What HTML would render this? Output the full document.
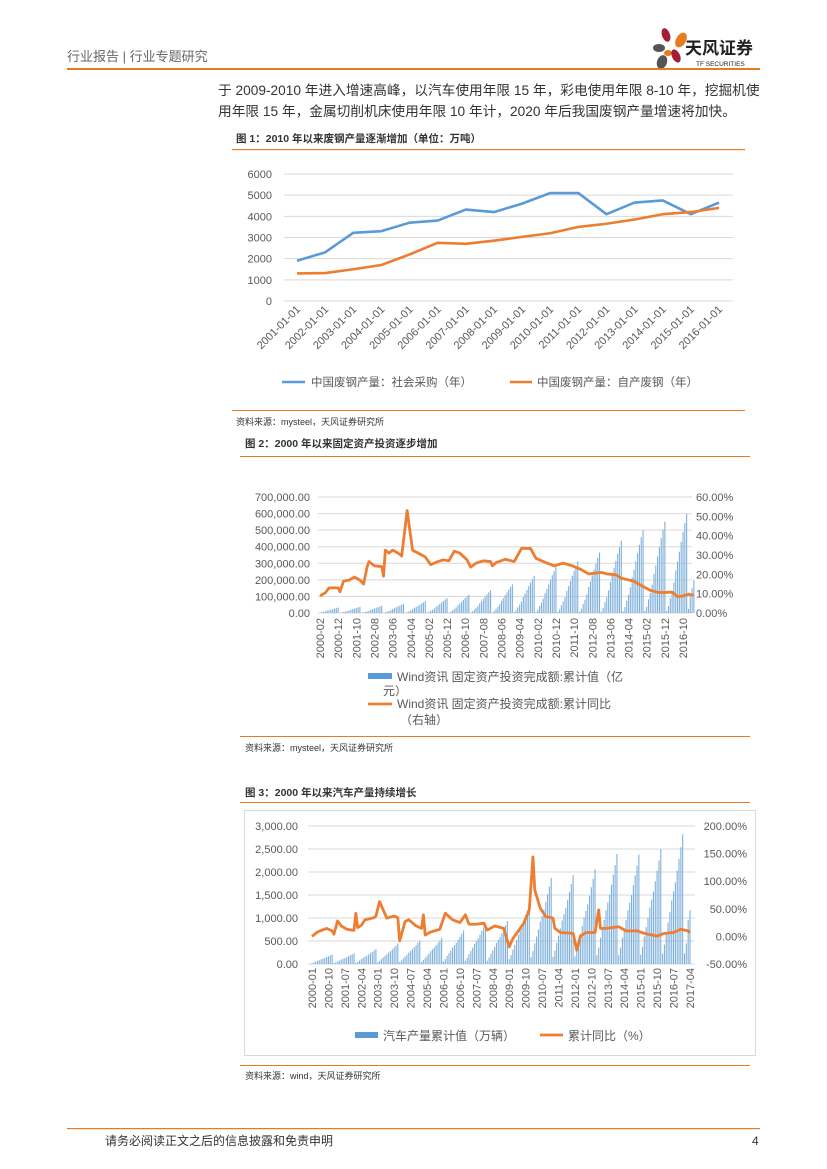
<!DOCTYPE html>
<html><head><meta charset="utf-8"><style>
html,body{margin:0;padding:0;background:#fff}
svg{display:block;font-family:"Liberation Sans","Noto Sans CJK SC",sans-serif}
</style></head><body>
<svg id="pg" width="827" height="1169" viewBox="0 0 827 1169">
<g>
<text x="67" y="61" font-size="13" fill="#666">行业报告 | 行业专题研究</text>
<g>
<ellipse cx="666" cy="35" rx="4" ry="7" fill="#a31d36" transform="rotate(-20 666 35)"/>
<ellipse cx="681" cy="40" rx="5" ry="8" fill="#e87a1f" transform="rotate(30 681 40)"/>
<ellipse cx="659" cy="48" rx="6" ry="4" fill="#555"/>
<ellipse cx="668" cy="53" rx="4" ry="3" fill="#e87a1f"/>
<ellipse cx="676" cy="56" rx="4" ry="7" fill="#a31d36" transform="rotate(-25 676 56)"/>
<ellipse cx="662" cy="62" rx="5" ry="7" fill="#555" transform="rotate(20 662 62)"/>
<text x="685" y="54" font-size="17" font-weight="bold" fill="#222">天风证券</text>
<text x="696" y="66" font-size="6.5" fill="#222">TF SECURITIES</text>
</g>
<rect x="67" y="68" width="693" height="2" fill="#e87a1f"/>
</g>
<g font-size="13.7" fill="#333">
<text x="218" y="95">于 2009-2010 年进入增速高峰，以汽车使用年限 15 年，彩电使用年限 8-10 年，挖掘机使</text>
<text x="218" y="116">用年限 15 年，金属切削机床使用年限 10 年计，2020 年后我国废钢产量增速将加快。</text>
</g>
<text x="236" y="142" font-size="10.5" font-weight="bold" fill="#333">图 1：2010 年以来废钢产量逐渐增加（单位：万吨）</text>
<rect x="232" y="149" width="513" height="1.2" fill="#e87a1f"/>
<g id="c1"></g>
<rect x="232" y="410" width="513" height="1" fill="#e87a1f"/>
<text x="236" y="425" font-size="9" fill="#333">资料来源：mysteel，天风证券研究所</text>
<text x="245" y="447" font-size="10.5" font-weight="bold" fill="#333">图 2：2000 年以来固定资产投资逐步增加</text>
<rect x="240" y="456" width="510" height="1" fill="#e87a1f"/>
<g id="c2"></g>
<rect x="240" y="736" width="510" height="1" fill="#e87a1f"/>
<text x="245" y="751" font-size="9" fill="#333">资料来源：mysteel，天风证券研究所</text>
<text x="245" y="796" font-size="10.5" font-weight="bold" fill="#333">图 3：2000 年以来汽车产量持续增长</text>
<rect x="240" y="802" width="510" height="1" fill="#e87a1f"/>
<rect x="244.5" y="810.5" width="511" height="245" fill="none" stroke="#d9d9d9"/>
<g id="c3"></g>
<rect x="240" y="1065" width="510" height="1" fill="#e87a1f"/>
<text x="245" y="1079" font-size="9" fill="#333">资料来源：wind，天风证券研究所</text>
<rect x="67" y="1128" width="693" height="1.2" fill="#e87a1f"/>
<text x="105" y="1145" font-size="12" fill="#333">请务必阅读正文之后的信息披露和免责申明</text>
<text x="752" y="1145" font-size="12" fill="#333">4</text>
</svg>
<script>
// ---------- Chart 1 data ----------
const c1Years = ["2001-01-01","2002-01-01","2003-01-01","2004-01-01","2005-01-01","2006-01-01","2007-01-01","2008-01-01","2009-01-01","2010-01-01","2011-01-01","2012-01-01","2013-01-01","2014-01-01","2015-01-01","2016-01-01"];
const c1Purchased = [1900,2300,3220,3300,3700,3800,4320,4200,4600,5100,5100,4100,4650,4750,4100,4650];
const c1SelfProduced = [1300,1320,1500,1700,2200,2750,2700,2850,3030,3200,3500,3650,3850,4100,4200,4400];
const c1Ticks = [0,1000,2000,3000,4000,5000,6000];
// ---------- Chart 2 data ----------
const c2YearTotals = [32918,37213,43500,55118,70477,88774,109998,137324,172828,224599,278122,311485,364854,436528,501265,551590,596501];
const c2MonthShare = [0.02,0.07,0.15,0.22,0.31,0.43,0.52,0.62,0.72,0.82,0.91,1.0];
const c2Partial2017 = [25000,100000,150000,200000];
const c2GrowthIdx = [0,3,5,10,11,13,16,19,22,24,26,27,30,34,35,36,38,40,43,45,48,51,56,58,61,65,68,71,74,77,81,83,86,90,94,95,97,102,107,111,116,119,125,129,134,139,144,148,155,158,163,166,173,177,182,187,194,197,200,203,206];
const c2Growth = [8.8,10.5,13,13,11,16.5,17,18.6,17,15,24,26.6,24.4,24,19,32.5,31,32.5,31,29.5,53,32.5,30,29,25,26.6,27.5,27,32,31,27.5,23.7,25.8,27,26.6,24.4,26,27.8,26.6,33.4,33.4,28.3,25.8,24.4,25.8,24.4,22.4,20.2,21,20.2,19.8,18,16.4,14.2,11.7,10.5,10.8,8.5,8.8,9.7,9.2];
const c2LeftTicks = ["0.00","100,000.00","200,000.00","300,000.00","400,000.00","500,000.00","600,000.00","700,000.00"];
const c2RightTicks = ["0.00%","10.00%","20.00%","30.00%","40.00%","50.00%","60.00%"];
// ---------- Chart 3 data ----------
const c3YearTotals = [207,234,325,444,507,570,728,888,934,1300,1870,1930,2060,2390,2380,2500,2820];
const c3MonthShare = [0.08,0.15,0.24,0.32,0.40,0.49,0.56,0.63,0.72,0.81,0.90,1.0];
const c3Partial2017 = [230,450,960,1170];
const c3GrowthIdx = [0,3,8,11,12,14,16,19,23,24,25,27,29,34,35,37,41,45,47,48,51,53,57,60,61,62,65,70,73,77,81,84,86,90,94,96,100,105,108,110,116,119,121,122,125,128,132,133,136,143,145,147,150,155,157,158,161,168,172,178,182,189,193,198,202,206,207];
const c3Growth = [0,8,14.5,10,4,28,19,13,11,42,16,20,30,34,37,63,33,37,34,-8,27,30,19,14.5,39,2.5,8,13,42,30,25,39,22,22,24,11.5,19,14.5,-19,-4,24,48,144,84,51,36,33,14.5,7,5.5,-25,0.5,7,7,48,14.5,14.5,17.5,10,10,5.5,0.5,5.5,7,13,10,7];
const c3LeftTicks = ["0.00","500.00","1,000.00","1,500.00","2,000.00","2,500.00","3,000.00"];
const c3RightTicks = ["-50.00%","0.00%","50.00%","100.00%","150.00%","200.00%"];

const NS="http://www.w3.org/2000/svg";
function mk(parent,tag,attrs,txt){const e=document.createElementNS(NS,tag);for(const k in attrs)e.setAttribute(k,attrs[k]);if(txt!==undefined)e.textContent=txt;parent.appendChild(e);return e;}
const GRAY="#595959",BLUE="#5b9bd5",ORANGE="#ed7d31";

// ===== Chart 1 =====
(function(){
const g=document.getElementById('c1');
const x0=297,x1=719,yB=301,yT=174;
const X=i=>x0+(x1-x0)*i/(c1Years.length-1);
const Y=v=>yB-(yB-yT)*v/6000;
c1Ticks.forEach(t=>{
 const l=mk(g,'line',{x1:284,x2:733,y1:Y(t),y2:Y(t),stroke:"#d9d9d9","stroke-width":1});
 
 
 const tx=mk(g,'text',{x:272,y:Y(t)+4,"font-size":11,fill:GRAY,"text-anchor":"end"},String(t));
 
 
});
c1Years.forEach((c,i)=>{
 const tx=mk(g,'text',{x:X(i)+4,y:310,"font-size":11,fill:GRAY,"text-anchor":"end",transform:`rotate(-45 ${X(i)+4} 310)`},c);
 
 
});
[[c1Purchased,BLUE,'c1-line-purchased'],[c1SelfProduced,ORANGE,'c1-line-self-produced']].forEach(([d,col,n])=>{
 const p=mk(g,'polyline',{points:d.map((v,i)=>X(i)+','+Y(v)).join(' '),fill:"none",stroke:col,"stroke-width":2.6,"stroke-linejoin":"round"});
 
 
});
const l1=mk(g,'line',{x1:282,x2:305,y1:382,y2:382,stroke:BLUE,"stroke-width":2.6});


const t1=mk(g,'text',{x:311,y:386,"font-size":11.5,fill:GRAY},"中国废钢产量：社会采购（年）");


const l2=mk(g,'line',{x1:510,x2:532,y1:382,y2:382,stroke:ORANGE,"stroke-width":2.6});


const t2=mk(g,'text',{x:537,y:386,"font-size":11.5,fill:GRAY},"中国废钢产量：自产废钢（年）");


})();

// ===== Chart 2 =====
(function(){
const g=document.getElementById('c2');
const mNames=["01","02","03","04","05","06","07","08","09","10","11","12"];
let cats=[],vals=[];
c2YearTotals.forEach((tot,y)=>{c2MonthShare.forEach((s,m)=>{cats.push((2000+y)+"-"+mNames[m]);vals.push(tot*s);});});
c2Partial2017.forEach((v,m)=>{cats.push("2017-"+mNames[m]);vals.push(v);});
cats=cats.slice(1);vals=vals.slice(1);
const x0=320,step=1.815,yB=613,yT=497;
const X=i=>x0+step*i;
const YL=v=>yB-(yB-yT)*v/700000;
const YR=v=>yB-(yB-yT)*v/60;
c2LeftTicks.forEach((t,k)=>{
 const y=yB-(yB-yT)*k/7;
 const l=mk(g,'line',{x1:318,x2:692,y1:y,y2:y,stroke:"#d9d9d9","stroke-width":1});
 
 
 const tx=mk(g,'text',{x:310,y:y+4,"font-size":11,fill:GRAY,"text-anchor":"end"},t);
 
 
});
c2RightTicks.forEach((t,k)=>{
 const tx=mk(g,'text',{x:696,y:YR(k*10)+4,"font-size":11,fill:GRAY},t);
 
 
});
vals.forEach((v,i)=>{
 const r=mk(g,'rect',{x:X(i)-0.55,y:YL(v),width:1.1,height:yB-YL(v),fill:"#7fb0dc"});
 
 
});
cats.forEach((c,i)=>{ if(i%10!==0||i>200)return;
 const tx=mk(g,'text',{x:X(i)+4,y:618,"font-size":11,fill:GRAY,"text-anchor":"end",transform:`rotate(-90 ${X(i)+4} 618)`},c);
 
 
});
const p=mk(g,'polyline',{points:c2GrowthIdx.map((ix,k)=>X(ix)+','+YR(c2Growth[k])).join(' '),fill:"none",stroke:ORANGE,"stroke-width":2.8,"stroke-linejoin":"round"});


const lm=mk(g,'rect',{x:368,y:673,width:24,height:6,fill:BLUE});


const lt=mk(g,'text',{x:397,y:681,"font-size":12,fill:GRAY},"Wind资讯 固定资产投资完成额:累计值（亿");


const lt2=mk(g,'text',{x:383,y:695,"font-size":12,fill:GRAY},"元）");


const ll=mk(g,'line',{x1:368,x2:392,y1:704,y2:704,stroke:ORANGE,"stroke-width":2.8});


const lt3=mk(g,'text',{x:397,y:708,"font-size":12,fill:GRAY},"Wind资讯 固定资产投资完成额:累计同比");


const lt4=mk(g,'text',{x:400,y:724,"font-size":12,fill:GRAY},"（右轴）");


})();

// ===== Chart 3 =====
(function(){
const g=document.getElementById('c3');
const mNames=["01","02","03","04","05","06","07","08","09","10","11","12"];
const cats=[],vals=[];
c3YearTotals.forEach((tot,y)=>{c3MonthShare.forEach((s,m)=>{cats.push((2000+y)+"-"+mNames[m]);vals.push(tot*s);});});
c3Partial2017.forEach((v,m)=>{cats.push("2017-"+mNames[m]);vals.push(v);});
const x0=312,step=1.826,yB=964,yT=826;
const X=i=>x0+step*i;
const YL=v=>yB-(yB-yT)*v/3000;
const YR=v=>yB-(yB-yT)*(v+50)/250;
c3LeftTicks.forEach((t,k)=>{
 const y=yB-(yB-yT)*k/6;
 const l=mk(g,'line',{x1:308,x2:695,y1:y,y2:y,stroke:"#d9d9d9","stroke-width":1});
 
 
 const tx=mk(g,'text',{x:298,y:y+4,"font-size":11,fill:GRAY,"text-anchor":"end"},t);
 
 
});
c3RightTicks.forEach((t,k)=>{
 const tx=mk(g,'text',{x:747,y:YR(-50+k*50)+4,"font-size":11,fill:GRAY,"text-anchor":"end"},t);
 
 
});
vals.forEach((v,i)=>{
 const r=mk(g,'rect',{x:X(i)-0.55,y:YL(v),width:1.1,height:yB-YL(v),fill:"#7fb0dc"});
 
 
});
cats.forEach((c,i)=>{ if(i%9!==0)return;
 const tx=mk(g,'text',{x:X(i)+4,y:968,"font-size":11,fill:GRAY,"text-anchor":"end",transform:`rotate(-90 ${X(i)+4} 968)`},c);
 
 
});
const p=mk(g,'polyline',{points:c3GrowthIdx.map((ix,k)=>X(ix)+','+YR(c3Growth[k])).join(' '),fill:"none",stroke:ORANGE,"stroke-width":2.8,"stroke-linejoin":"round"});


const lm=mk(g,'rect',{x:355,y:1032,width:23,height:6,fill:BLUE});


const lt=mk(g,'text',{x:383,y:1040,"font-size":12,fill:GRAY},"汽车产量累计值（万辆）");


const ll=mk(g,'line',{x1:540,x2:563,y1:1035,y2:1035,stroke:ORANGE,"stroke-width":2.8});


const lt2=mk(g,'text',{x:568,y:1040,"font-size":12,fill:GRAY},"累计同比（%）");


})();
</script>
</body></html>
